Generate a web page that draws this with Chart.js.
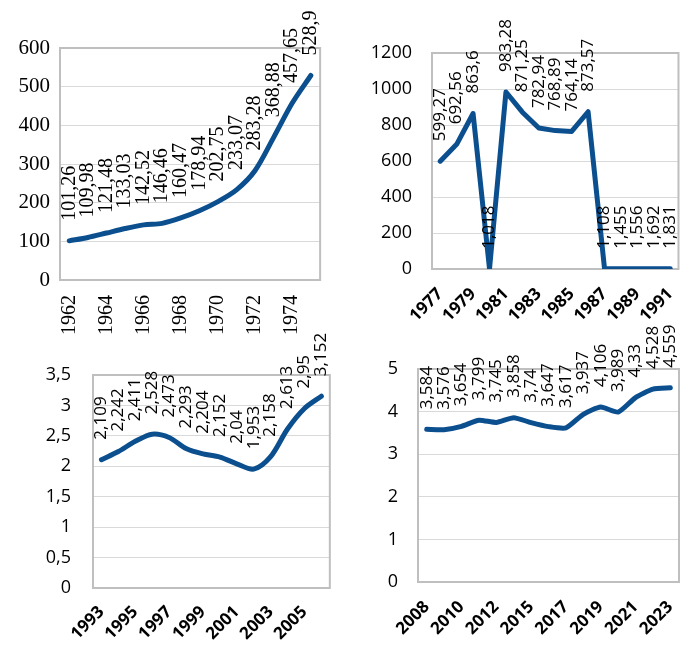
<!DOCTYPE html>
<html>
<head>
<meta charset="utf-8">
<script src="https://cdn.jsdelivr.net/npm/chart.js@4.4.1/dist/chart.umd.min.js"></script>
<style>
  html, body { margin: 0; padding: 0; background: #fff; overflow: hidden; }
  body { width: 687px; height: 649px; position: relative; }
  canvas { position: absolute; }
</style>
</head>
<body>
<canvas id="c1" width="350" height="345" style="left:0;top:0"></canvas>
<canvas id="c2" width="350" height="320" style="left:350px;top:0"></canvas>
<canvas id="c3" width="350" height="329" style="left:0;top:320px"></canvas>
<canvas id="c4" width="350" height="329" style="left:350px;top:320px"></canvas>
<script>
// values
const years1 = ["1962", "1963", "1964", "1965", "1966", "1967", "1968",
  "1969", "1970", "1971", "1972", "1973", "1974", "1975"];
const values1 = [101.26, 109.98, 121.48, 133.03, 142.52, 146.46, 160.47,
  178.94, 202.75, 233.07, 283.28, 368.88, 457.65, 528.9];
const yRange1 = [0, 600, 100];

const years2 = ["1977", "1978", "1979", "1980", "1981", "1982", "1983",
  "1984", "1985", "1986", "1987", "1988", "1989", "1990", "1991"];
const values2 = [599.27, 692.56, 863.6, 1.018, 983.28, 871.25, 782.94,
  768.89, 764.14, 873.57, 1.108, 1.455, 1.556, 1.692, 1.831];
const yRange2 = [0, 1200, 200];

const years3 = ["1993", "1994", "1995", "1996", "1997", "1998", "1999",
  "2000", "2001", "2002", "2003", "2004", "2005", "2006"];
const values3 = [2.109, 2.242, 2.411, 2.528, 2.473, 2.293, 2.204,
  2.152, 2.04, 1.953, 2.158, 2.613, 2.95, 3.152];
const yRange3 = [0, 3.5, 0.5];

const years4 = ["2008", "2009", "2010", "2011", "2012", "2014", "2015",
  "2016", "2017", "2018", "2019", "2020", "2021", "2022", "2023"];
const values4 = [3.584, 3.576, 3.654, 3.799, 3.745, 3.858, 3.74,
  3.647, 3.617, 3.937, 4.106, 3.989, 4.33, 4.528, 4.559];
const yRange4 = [0, 5, 1];

const LINE = "#0b4f8f";
const SERIF = "'Liberation Serif', 'DejaVu Serif', serif";
const SANS = "'Open Sans', 'Noto Sans', sans-serif";

function fmt(v) {
  return String(v).replace(".", ",");
}

// rotated value labels sitting above each point
const vertLabels = {
  id: "vertLabels",
  afterDatasetsDraw(chart, args, opts) {
    const ctx = chart.ctx;
    const meta = chart.getDatasetMeta(0);
    const data = chart.data.datasets[0].data;
    ctx.save();
    ctx.font = opts.font;
    ctx.fillStyle = "#000";
    ctx.textAlign = "left";
    ctx.textBaseline = "middle";
    meta.data.forEach((pt, i) => {
      ctx.save();
      ctx.translate(pt.x, pt.y - opts.gap);
      ctx.rotate(-Math.PI / 2);
      ctx.fillText(fmt(data[i]), 0, 0);
      ctx.restore();
    });
    ctx.restore();
  },
};

// grey box round the plot area
const plotFrame = {
  id: "plotFrame",
  beforeDatasetsDraw(chart) {
    const a = chart.chartArea;
    const ctx = chart.ctx;
    ctx.save();
    ctx.strokeStyle = "#bfbfbf";
    ctx.lineWidth = 2;
    ctx.strokeRect(a.left, a.top, a.right - a.left, a.bottom - a.top);
    ctx.restore();
  },
};

function buildChart(el, cfg) {
  return new Chart(el.getContext("2d"), {
    type: "line",
    data: {
      labels: cfg.labels,
      datasets: [
        {
          data: cfg.values,
          borderColor: LINE,
          borderWidth: 5,
          borderCapStyle: "round",
          borderJoinStyle: "round",
          tension: cfg.tension,
          pointRadius: 0,
          fill: false,
        },
      ],
    },
    options: {
      responsive: false,
      animation: false,
      events: [],
      layout: { padding: cfg.padding },
      plugins: {
        legend: { display: false },
        tooltip: { enabled: false },
        vertLabels: { font: cfg.labelFont, gap: 20 },
      },
      scales: {
        x: {
          offset: true,
          grid: { display: false, drawTicks: false },
          border: { display: false },
          afterFit: (s) => { s.height = cfg.xHeight; },
          ticks: {
            autoSkip: false,
            minRotation: cfg.rotation,
            maxRotation: cfg.rotation,
            padding: cfg.xPad,
            color: "#000",
            font: cfg.xFont,
            callback: function (value, index) {
              return index % 2 === 0 ? this.getLabelForValue(value) : "";
            },
          },
        },
        y: {
          min: cfg.range[0],
          max: cfg.range[1],
          grid: { color: "#d9d9d9", lineWidth: 1, drawTicks: false },
          border: { display: false },
          afterFit: (s) => { s.width = cfg.yWidth; },
          ticks: {
            stepSize: cfg.range[2],
            padding: cfg.yPad,
            color: "#000",
            font: cfg.yFont,
            callback: (v) => fmt(v),
          },
        },
      },
    },
    plugins: [plotFrame, vertLabels],
  });
}

const sansTick = { family: SANS, size: 18 };
const sansBold = { family: SANS, size: 17, weight: "bold" };

buildChart(document.getElementById("c1"), {
  labels: years1, values: values1, range: yRange1, tension: 0.3,
  padding: { left: 0, top: 48, right: 5, bottom: 0 },
  yWidth: 60, xHeight: 65, yPad: 10, xPad: 15, rotation: 90,
  yFont: { family: SERIF, size: 21 }, xFont: { family: SERIF, size: 20 },
  labelFont: "20px " + SERIF,
});

buildChart(document.getElementById("c2"), {
  labels: years2, values: values2, range: yRange2, tension: 0,
  padding: { left: 0, top: 53, right: 9, bottom: 0 },
  yWidth: 82, xHeight: 51, yPad: 20, xPad: 15, rotation: 45,
  yFont: sansTick, xFont: sansBold,
  labelFont: "17px " + SANS,
});

buildChart(document.getElementById("c3"), {
  labels: years3, values: values3, range: yRange3, tension: 0.3,
  padding: { left: 0, top: 55, right: 6, bottom: 0 },
  yWidth: 93, xHeight: 61, yPad: 22, xPad: 14, rotation: 45,
  yFont: sansTick, xFont: sansBold,
  labelFont: "17px " + SANS,
});

buildChart(document.getElementById("c4"), {
  labels: years4, values: values4, range: yRange4, tension: 0.2,
  padding: { left: 0, top: 49, right: 8, bottom: 0 },
  yWidth: 68, xHeight: 67, yPad: 20, xPad: 15, rotation: 45,
  yFont: sansTick, xFont: sansBold,
  labelFont: "17px " + SANS,
});
</script>
</body>
</html>
